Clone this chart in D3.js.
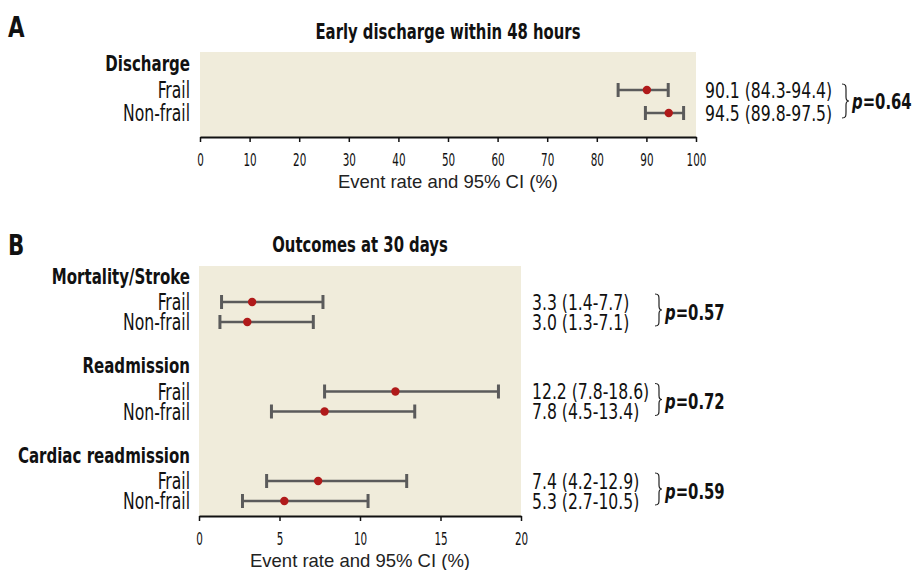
<!DOCTYPE html>
<html>
<head>
<meta charset="utf-8">
<script src="https://cdn.jsdelivr.net/npm/d3@7"></script>
<style>
  body { margin: 0; background: #fff; }
  svg { display: block; }
  .cond { font-family: "DejaVu Sans Condensed", "DejaVu Sans", sans-serif; fill: #111; }
  .plain { font-family: "Liberation Sans", Arial, sans-serif; }
</style>
</head>
<body>
<svg width="914" height="570"></svg>
<script>
// Panel A: early discharge
const groupsA = ["Discharge"];
const frailA = [[90.1, 84.3, 94.4]];
const nonFrailA = [[94.5, 89.8, 97.5]];
const pA = ["0.64"];
const ticksA = [0, 10, 20, 30, 40, 50, 60, 70, 80, 90, 100];

// Panel B: outcomes at 30 days
const groupsB = ["Mortality/Stroke", "Readmission", "Cardiac readmission"];
const frailB = [[3.3, 1.4, 7.7], [12.2, 7.8, 18.6], [7.4, 4.2, 12.9]];
const nonFrailB = [[3.0, 1.3, 7.1], [7.8, 4.5, 13.4], [5.3, 2.7, 10.5]];
const pB = ["0.57", "0.72", "0.59"];
const ticksB = [0, 5, 10, 15, 20];

const rowLabels = ["Frail", "Non-frail"];

const svg = d3.select("svg");
const bg = "#f0ecdb";
const barColor = "#5b5b5b";
const dotColor = "#b01a1a";

function fmt(v) {
  return `${v[0].toFixed(1)} (${v[1].toFixed(1)}-${v[2].toFixed(1)})`;
}

// condensed text: horizontal squeeze to mimic the narrow typeface
function ctext(g, x, y, size, sx, bold) {
  return g.append("text").attr("class", "cond")
    .attr("transform", `translate(${x},${y}) scale(${sx},1)`)
    .attr("font-size", size)
    .attr("font-weight", bold ? "bold" : "normal");
}

function brace(x, y0, y1) {
  const m = (y0 + y1) / 2;
  return `M${x},${y0} C${x + 4},${y0} ${x + 4},${y0 + 2} ${x + 4},${y0 + 6} L${x + 4},${m - 4} C${x + 4},${m - 1} ${x + 5},${m} ${x + 7},${m}` +
    ` C${x + 5},${m} ${x + 4},${m + 1} ${x + 4},${m + 4} L${x + 4},${y1 - 6} C${x + 4},${y1 - 2} ${x + 4},${y1} ${x},${y1}`;
}

function panel(opt) {
  const g = svg.append("g");
  const x = d3.scaleLinear().domain(opt.domain).range([opt.x0, opt.x1]);
  const yGroup = d3.scaleLinear().domain([0, Math.max(1, opt.groups.length - 1)])
    .range([opt.yFirst, opt.yLast]);

  g.append("rect")
    .attr("x", opt.x0).attr("y", opt.top)
    .attr("width", opt.x1 - opt.x0).attr("height", opt.axisY - opt.top)
    .attr("fill", bg);

  // panel letter and title
  ctext(g, 8, opt.letterY, 28, 0.85, true).text(opt.letter);
  ctext(g, (opt.x0 + opt.x1) / 2, opt.titleY, 22, 0.75, true)
    .attr("text-anchor", "middle")
    .text(opt.title);

  opt.groups.forEach((name, i) => {
    const yc = yGroup(i);
    const rows = [opt.frail[i], opt.nonFrail[i]];

    ctext(g, 190, yc - opt.headGap, 22, 0.76, true)
      .attr("dy", "0.36em").attr("text-anchor", "end")
      .text(name);

    rows.forEach((v, r) => {
      const y = yc + r * opt.rowGap;
      ctext(g, 190, y, 23, 0.755, false)
        .attr("dy", "0.36em").attr("text-anchor", "end")
        .text(rowLabels[r]);

      g.append("line")
        .attr("x1", x(v[1])).attr("x2", x(v[2]))
        .attr("y1", y).attr("y2", y)
        .attr("stroke", barColor).attr("stroke-width", 2.5);
      [v[1], v[2]].forEach(e => {
        g.append("line")
          .attr("x1", x(e)).attr("x2", x(e))
          .attr("y1", y - 7).attr("y2", y + 7)
          .attr("stroke", barColor).attr("stroke-width", 3);
      });
      g.append("circle")
        .attr("cx", x(v[0])).attr("cy", y).attr("r", 4.2)
        .attr("fill", dotColor);

      ctext(g, opt.valueX, y, 22, 0.79, false)
        .attr("dy", "0.36em")
        .text(fmt(v));
    });

    const y0 = yc - opt.braceTop;
    const y1 = yc + opt.rowGap + opt.braceBot;
    g.append("path")
      .attr("d", brace(opt.braceX, y0, y1))
      .attr("fill", "none").attr("stroke", "#222").attr("stroke-width", 1.2);

    const pt = ctext(g, opt.braceX + 10, yc + opt.rowGap / 2, 22, 0.75, true)
      .attr("dy", "0.36em");
    pt.append("tspan").attr("font-style", "italic").text("p");
    pt.append("tspan").text("=" + opt.p[i]);
  });

  const axis = d3.axisBottom(x).tickValues(opt.ticks).tickSize(5).tickSizeOuter(0).tickPadding(12);
  const ax = g.append("g")
    .attr("transform", `translate(0,${opt.axisY})`)
    .call(axis);
  ax.select(".domain").attr("stroke", "#111").attr("stroke-width", 2);
  ax.selectAll(".tick line").attr("stroke", "#111").attr("stroke-width", 1.5);
  ax.selectAll(".tick text")
    .attr("class", "cond")
    .attr("font-size", 17).attr("fill", "#222")
    .attr("transform", "scale(0.68,1)");

  g.append("text").attr("class", "plain")
    .attr("x", (opt.x0 + opt.x1) / 2).attr("y", opt.axisY + 51)
    .attr("text-anchor", "middle")
    .attr("font-size", 18.5).attr("fill", "#222")
    .text("Event rate and 95% CI (%)");
}

panel({
  letter: "A", letterY: 37, title: "Early discharge within 48 hours", titleY: 39,
  groups: groupsA, frail: frailA, nonFrail: nonFrailA, p: pA,
  domain: [0, 100], ticks: ticksA,
  x0: 200, x1: 696, top: 52, axisY: 137,
  yFirst: 90, yLast: 90, rowGap: 23, headGap: 27,
  valueX: 705, braceX: 842, braceTop: 6, braceBot: 5
});

panel({
  letter: "B", letterY: 255, title: "Outcomes at 30 days", titleY: 252,
  groups: groupsB, frail: frailB, nonFrail: nonFrailB, p: pB,
  domain: [0, 20], ticks: ticksB,
  x0: 199, x1: 521, top: 266, axisY: 516,
  yFirst: 302, yLast: 481, rowGap: 20, headGap: 26,
  valueX: 532, braceX: 655, braceTop: 8, braceBot: 4
});
</script>
</body>
</html>
